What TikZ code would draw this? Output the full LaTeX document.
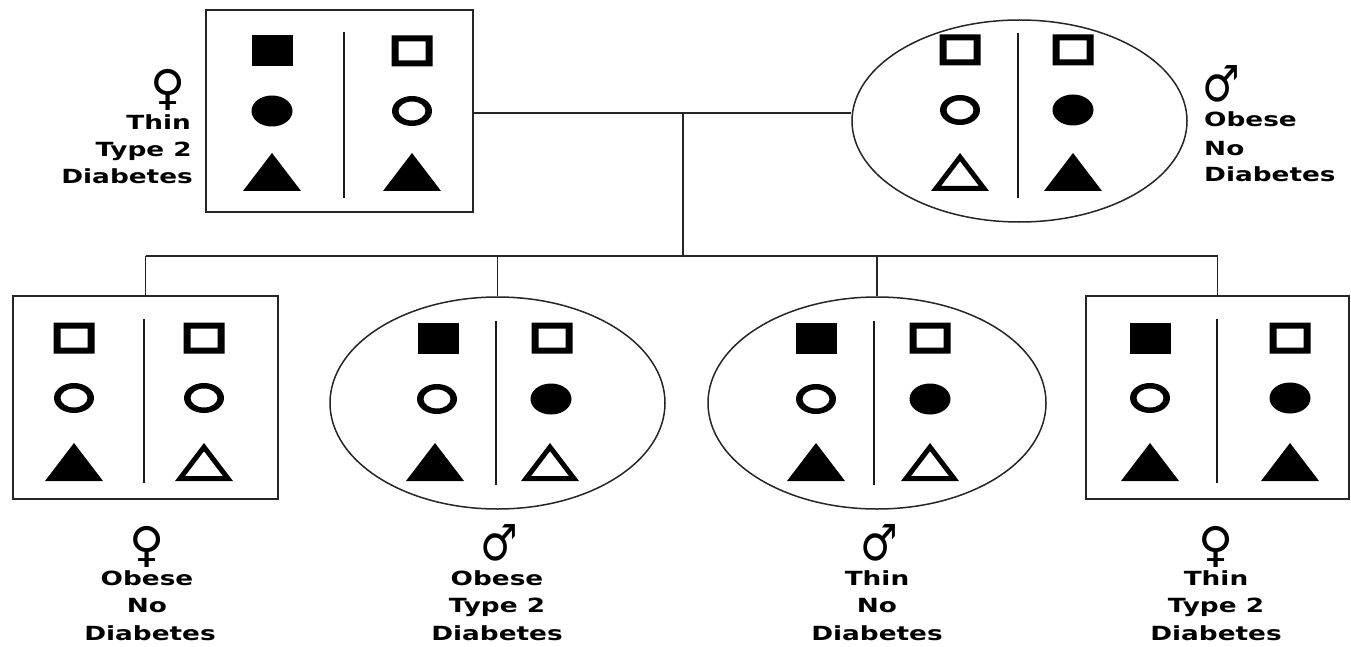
\documentclass[tikz,border=0pt]{standalone}
\usepackage{fontspec}
\usetikzlibrary{shapes.geometric}
\newfontfamily\lblfont[FakeStretch=1.35]{DejaVu Sans}
\newfontfamily\femfont[FakeStretch=1.0]{DejaVu Sans}
\newfontfamily\malfont[FakeStretch=0.84]{DejaVu Sans}
\tikzset{
  x=1pt, y=-1pt,
  lbl/.style={font=\lblfont\bfseries\fontsize{19.5}{27}\selectfont, inner sep=0pt, anchor=base},
  fsym/.style={font=\femfont\fontsize{48}{48}\selectfont, inner sep=0pt, anchor=base},
  msym/.style={font=\malfont\fontsize{50}{50}\selectfont, inner sep=0pt, anchor=base},
  person/.style={draw=black!85, line width=1.5pt, inner sep=0pt, fill=none},
  boxperson/.style={person, rectangle},
  ellperson/.style={person, ellipse},
  conn/.style={line width=1.6pt, draw=black!85},
  divider/.style={line width=1.6pt, draw=black!90},
  fsq/.pic={\fill[black] (-20.5,-15.5) rectangle (20.5,15.5);},
  hsq/.pic={\fill[black,even odd rule] (-20.5,-15.5) rectangle (20.5,15.5) (-13.5,-9.5) rectangle (13.5,9.5);},
  fci/.pic={\fill[black] (0,0) ellipse [x radius=20.5pt, y radius=15.5pt];},
  hci/.pic={\fill[black,even odd rule] (0,0) ellipse [x radius=20pt, y radius=15pt] (0,0) ellipse [x radius=13.5pt, y radius=9.5pt];},
  ftr/.pic={\fill[black] (-29,19) -- (29,19) -- (0,-19) -- cycle;},
  htr/.pic={\fill[black,even odd rule] (-29,19) -- (29,19) -- (0,-19) -- cycle (-18.9,14) -- (18.9,14) -- (0,-10.8) -- cycle;}
}
\begin{document}
\begin{tikzpicture}
\useasboundingbox (0,0) rectangle (1351,647);
\fill[white] (0,0) rectangle (1351,647);

% ---- persons ----
\node[boxperson, minimum width=267pt, minimum height=202pt] (pa) at (339.5,111) {};
\node[ellperson, minimum width=335pt, minimum height=202pt] (pb) at (1019.5,121) {};
\node[boxperson, minimum width=265pt, minimum height=203pt] (ca) at (145.5,397.5) {};
\node[ellperson, minimum width=335pt, minimum height=212pt] (cb) at (497.5,403) {};
\node[ellperson, minimum width=338pt, minimum height=212pt] (cc) at (877,403) {};
\node[boxperson, minimum width=263pt, minimum height=203pt] (cd) at (1217.5,397.5) {};

% ---- dividers ----
\draw[divider] (344,32) -- (344,198);
\draw[divider] (1018,33) -- (1018,198);
\draw[divider] (144,319) -- (144,483);
\draw[divider] (496,321) -- (496,485);
\draw[divider] (874,321) -- (874,485);
\draw[divider] (1217,319) -- (1217,483);

% ---- symbols: top-left parent ----
\pic at (272,51) {fsq};  \pic at (412,51) {hsq};
\pic at (272,111) {fci}; \pic at (412,111) {hci};
\pic at (272,172) {ftr}; \pic at (412,172) {ftr};
% ---- top-right parent ----
\pic at (960,50) {hsq};  \pic at (1073,50) {hsq};
\pic at (960,110) {hci}; \pic at (1073,110) {fci};
\pic at (960,172) {htr}; \pic at (1073,172) {ftr};
% ---- child 1 ----
\pic at (74,338) {hsq};  \pic at (204,338) {hsq};
\pic at (74,398) {hci};  \pic at (204,398) {hci};
\pic at (74,462) {ftr};  \pic at (204,462) {htr};
% ---- child 2 ----
\pic at (438,338) {fsq}; \pic at (552,338) {hsq};
\pic at (437,399) {hci}; \pic at (551,399) {fci};
\pic at (435,462) {ftr}; \pic at (550,462) {htr};
% ---- child 3 ----
\pic at (816,338) {fsq}; \pic at (930,338) {hsq};
\pic at (816,399) {hci}; \pic at (930,399) {fci};
\pic at (816,462) {ftr}; \pic at (930,462) {htr};
% ---- child 4 ----
\pic at (1150,338) {fsq}; \pic at (1290,338) {hsq};
\pic at (1150,398) {hci}; \pic at (1290,398) {fci};
\pic at (1150,462) {ftr}; \pic at (1290,462) {ftr};

% ---- connectors ----
\coordinate (mar) at (683,113);
\coordinate (sib) at (683,256);
\draw[conn] (pa.east |- mar) -- (pb.west |- mar);
\draw[conn] (mar) -- (sib);
\draw[conn] (ca.north |- sib) -- (cd.north |- sib);
\foreach \c in {ca,cb,cc,cd} \draw[conn] (\c.north |- sib) -- (\c.north);

% ---- labels ----
\node[fsym, anchor=base east] (ga) at (186,105) {♀};
\node[lbl, anchor=base east] (la1) at (191,130) {Thin};
\node[lbl, anchor=base east] (la2) at (192,157) {Type 2};
\node[lbl, anchor=base east] (la3) at (193,183) {Diabetes};

\node[msym, anchor=base west] (gb) at (1202,102) {♂};
\node[lbl, anchor=base west] (lb1) at (1204,127) {Obese};
\node[lbl, anchor=base west] (lb2) at (1204,156) {No};
\node[lbl, anchor=base west] (lb3) at (1204,182) {Diabetes};

\node[fsym] (gc) at (147,561) {♀};
\node[lbl] (lc1) at (147,585) {Obese};
\node[lbl] (lc2) at (147,612) {No};
\node[lbl] (lc3) at (150,640) {Diabetes};

\node[msym] (gd) at (499,560) {♂};
\node[lbl] (ld1) at (497,585) {Obese};
\node[lbl] (ld2) at (497,612) {Type 2};
\node[lbl] (ld3) at (497,640) {Diabetes};

\node[msym] (ge) at (879,560) {♂};
\node[lbl] (le1) at (877,585) {Thin};
\node[lbl] (le2) at (877,612) {No};
\node[lbl] (le3) at (877,640) {Diabetes};

\node[fsym] (gf) at (1216,561) {♀};
\node[lbl] (lf1) at (1216,585) {Thin};
\node[lbl] (lf2) at (1216,612) {Type 2};
\node[lbl] (lf3) at (1216,640) {Diabetes};
\end{tikzpicture}
\end{document}
